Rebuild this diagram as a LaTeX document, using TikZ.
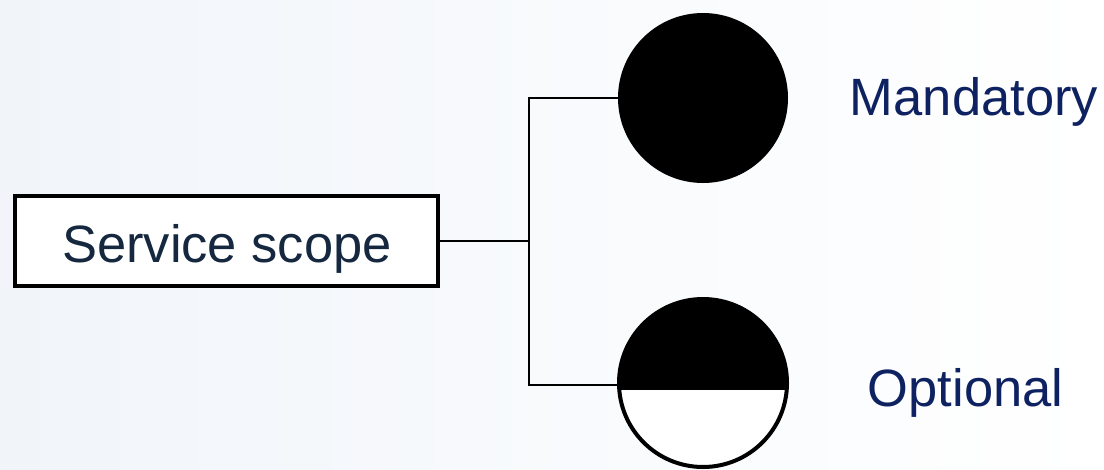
\documentclass[tikz,border=0pt]{standalone}
\usepackage{fontspec}
\setmainfont{Liberation Sans}
\definecolor{labelblue}{HTML}{0E2262}
\definecolor{boxtext}{HTML}{15283F}
\definecolor{bgleft}{HTML}{F1F5FA}
\begin{document}
\begin{tikzpicture}[x=1pt,y=-1pt,
  lbl/.style={inner sep=0pt,font=\fontsize{52.5}{60}\selectfont},
  conn/.style={line width=2pt},
  scopebox/.style={draw,fill=white,line width=4pt,minimum width=423pt,minimum height=90pt,inner sep=0pt},
  dot/.style={circle,minimum size=170pt,inner sep=0pt}]
\shade[left color=bgleft,right color=white] (0,0) rectangle (1104,469);
\useasboundingbox (0,0) rectangle (1104,469);
\node[scopebox] (scope) at (226.5,241) {};
\node[lbl,text=boxtext,anchor=base] (stext) at (227,262) {Service scope};
\node[dot,fill=black] (mand) at (703,98) {};
\node[dot] (opt) at (703,383) {};
\begin{scope}
  \clip (703,383) circle (84);
  \fill[white] (603,283) rectangle (803,483);
  \fill[black] (603,283) rectangle (803,390);
\end{scope}
\draw[line width=4pt] (703,383) circle (84);
\coordinate (jn) at (529,241);
\draw[conn] (scope.east) -- (jn);
\draw[conn] (jn) |- (mand.west);
\draw[conn] (jn) |- ([yshift=-2pt]opt.west);
\node[lbl,text=labelblue,anchor=base] (mtext) at (974,115) {Mandatory};
\node[lbl,text=labelblue,anchor=base] (otext) at (965.5,406) {Optional};
\end{tikzpicture}
\end{document}
